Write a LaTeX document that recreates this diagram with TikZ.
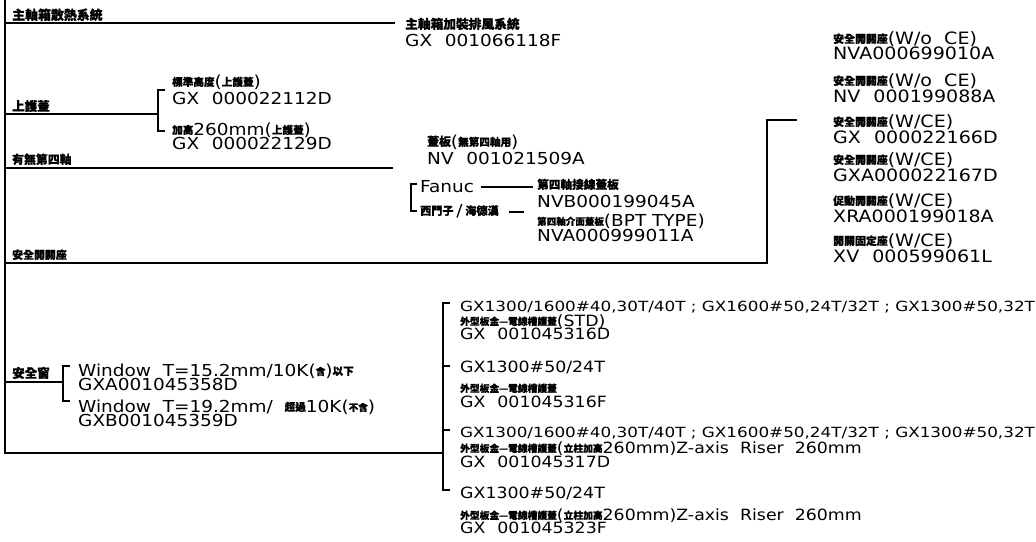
\documentclass[tikz,border=0pt]{standalone}
\usepackage{fontspec}
\setmainfont{DejaVu Sans}[FakeStretch=1.12]
\newfontfamily\cjfont{Noto Sans CJK TC}[Scale=1.06, BoldFeatures={FakeBold=0.8}]
\newfontfamily\longfont{DejaVu Sans}[FakeStretch=1.2]
\usetikzlibrary{calc}

\newcommand{\cj}[2][10]{{\cjfont\bfseries\fontsize{#1}{#1}\selectfont\raisebox{.1em}{#2}}}
\newcommand{\gap}{\phantom{A}}

\tikzset{
  tree/.style={line width=1.4pt, black},
  lbl/.style={anchor=base west, inner sep=0pt},
  partno/.style={lbl, font=\fontsize{16.5}{16.5}\selectfont},
  partnoR/.style={lbl, font=\fontsize{17}{17}\selectfont},
  partnoS/.style={lbl, font=\fontsize{15.5}{15.5}\selectfont},
  models/.style={lbl, font=\longfont\fontsize{14}{14}\selectfont},
}

\begin{document}
\begin{tikzpicture}[x=1pt, y=-1pt]
    \useasboundingbox (0,0) rectangle (1036,541);

    % branch points
    \coordinate (top) at (5,0);
    \coordinate (bot) at (5,453);
    \coordinate (j1) at (5,23);   \coordinate (e1) at (395,23);
    \coordinate (j2) at (5,114);  \coordinate (k2) at (158,114);
    \coordinate (k2t) at (158,90); \coordinate (k2b) at (158,131);
    \coordinate (j3) at (5,168);  \coordinate (e3) at (393,168);
    \coordinate (j4) at (5,263);  \coordinate (c4) at (767,263);
    \coordinate (e4) at (797,120);
    \coordinate (j5) at (5,382);  \coordinate (k5) at (63,382);
    \coordinate (k5t) at (63,366); \coordinate (k5b) at (63,401);
    \coordinate (k6) at (443,453);
    \coordinate (k6t) at (443,303); \coordinate (k6b) at (443,490);
    \coordinate (k6m) at (443,366); \coordinate (k6n) at (443,430);
    \coordinate (fbt) at (411,184); \coordinate (fbb) at (411,211);

    % left labels
    \node[lbl] (lab1) at (12,21) {\cj[12.2]{主軸箱散熱系統}};
    \node[lbl] (lab2) at (12,112) {\cj[11.8]{上護蓋}};
    \node[lbl] (lab3) at (12,165) {\cj[11.2]{有無第四軸}};
    \node[lbl] (lab4) at (12,260) {\cj[10.3]{安全開關座}};
    \node[lbl] (lab5) at (12,379) {\cj[11.8]{安全窗}};

    % spindle box fan
    \node[lbl] (fan) at (405,30) {\cj[12]{主軸箱加裝排風系統}};
    \node[partno] (fan-pn) at (405,46) {GX\gap001066118F};

    % top cover
    \node[partno] (std) at (172,87) {\cj[10]{標準高度}(\cj[10]{上護蓋})};
    \node[partno] (std-pn) at (172,104) {GX\gap000022112D};
    \node[partno] (hi) at (172,135) {\cj[10]{加高}260mm(\cj[10]{上護蓋})};
    \node[partno] (hi-pn) at (172,149) {GX\gap000022129D};

    % 4th axis
    \node[partno] (cov) at (427,147) {\cj[11.2]{蓋板}(\cj[10]{無第四軸用})};
    \node[partno] (cov-pn) at (427,164) {NV\gap001021509A};
    \node[partno] (fanuc) at (420,192) {Fanuc};
    \node[partno] (sie) at (420,216) {\cj[10.5]{西門子}\,/\,\cj[10.5]{海德漢}};
    \node[lbl] (plate) at (537,190) {\cj[11]{第四軸接線蓋板}};
    \node[partno] (plate-pn) at (537,207) {NVB000199045A};
    \node[partno] (bpt) at (537,226) {\cj[9]{第四軸介面蓋板}(BPT TYPE)};
    \node[partno] (bpt-pn) at (537,241) {NVA000999011A};

    % safety switch
    \node[partnoR] (sw1) at (833,44) {\cj[10.3]{安全開關座}(W/o\ \ CE)};
    \node[partnoR] (sw1-pn) at (833,59) {NVA000699010A};
    \node[partnoR] (sw2) at (833,86) {\cj[10.3]{安全開關座}(W/o\ \ CE)};
    \node[partnoR] (sw2-pn) at (833,102) {NV\gap000199088A};
    \node[partnoR] (sw3) at (833,127) {\cj[10.3]{安全開關座}(W/CE)};
    \node[partnoR] (sw3-pn) at (833,143) {GX\gap000022166D};
    \node[partnoR] (sw4) at (833,165) {\cj[10.3]{安全開關座}(W/CE)};
    \node[partnoR] (sw4-pn) at (833,181) {GXA000022167D};
    \node[partnoR] (sw5) at (833,206) {\cj[10.3]{促動開關座}(W/CE)};
    \node[partnoR] (sw5-pn) at (833,222) {XRA000199018A};
    \node[partnoR] (sw6) at (833,246) {\cj[10.3]{開關固定座}(W/CE)};
    \node[partnoR] (sw6-pn) at (833,262) {XV\gap000599061L};

    % safety window
    \node[partno] (win1) at (78,376) {Window\ \ T=15.2mm/10K(\cj[9]{含})\cj[10]{以下}};
    \node[partno] (win1-pn) at (78,390) {GXA001045358D};
    \node[partno] (win2) at (78,412) {Window\ \ T=19.2mm/\ \ \cj[10]{超過}10K(\cj[9]{不含})};
    \node[partno] (win2-pn) at (78,426) {GXB001045359D};

    % wire duct covers
    \node[models] (m1) at (460,311) {GX1300/1600\#40,30T/40T ; GX1600\#50,24T/32T ; GX1300\#50,32T};
    \node[partnoS] (m1-cn) at (460,326) {\cj[9.2]{外型板金—電線槽護蓋}(STD)};
    \node[partnoS] (m1-pn) at (460,339) {GX\gap001045316D};
    \node[partnoS] (m2) at (460,372) {GX1300\#50/24T};
    \node[lbl] (m2-cn) at (460,393) {\cj[9.2]{外型板金—電線槽護蓋}};
    \node[partnoS] (m2-pn) at (460,407) {GX\gap001045316F};
    \node[models] (m3) at (460,437) {GX1300/1600\#40,30T/40T ; GX1600\#50,24T/32T ; GX1300\#50,32T};
    \node[partnoS] (m3-cn) at (460,453) {\cj[9.2]{外型板金—電線槽護蓋}(\cj[9.2]{立柱加高}260mm)Z-axis\ \ Riser\ \ 260mm};
    \node[partnoS] (m3-pn) at (460,467) {GX\gap001045317D};
    \node[partnoS] (m4) at (460,498) {GX1300\#50/24T};
    \node[partnoS] (m4-cn) at (460,520) {\cj[9.2]{外型板金—電線槽護蓋}(\cj[9.2]{立柱加高}260mm)Z-axis\ \ Riser\ \ 260mm};
    \node[partnoS] (m4-pn) at (460,533) {GX\gap001045323F};

    % tree lines
    \draw[tree] (top) -- (bot) -- (k6);
    \draw[tree] (j1) -- (e1);
    \draw[tree] (j2) -- (k2);
    \draw[tree] ($(k2t)+(7,0)$) -- (k2t) -- (k2b) -- ++(7,0);
    \draw[tree] (j3) -- (e3);
    \draw[tree] (j4) -- (c4) |- (e4);
    \draw[tree] (j5) -- (k5);
    \draw[tree] ($(k5t)+(7,0)$) -- (k5t) -- (k5b) -- ++(7,0);
    \draw[tree] ($(k6t)+(7,0)$) -- (k6t) -- (k6b) -- ++(7,0);
    \draw[tree] (k6m) -- ++(7,0);
    \draw[tree] (k6n) -- ++(7,0);
    \draw[tree] ($(fbt)+(6,0)$) -- (fbt) -- (fbb) -- ++(6,0);
    \draw[tree] ($(fanuc.base east)+(7,-5)$) -- ($(plate.base west)+(-4,-3)$);
    \draw[tree] ($(sie.base east)+(10,-4)$) -- ++(15,0);
\end{tikzpicture}
\end{document}
